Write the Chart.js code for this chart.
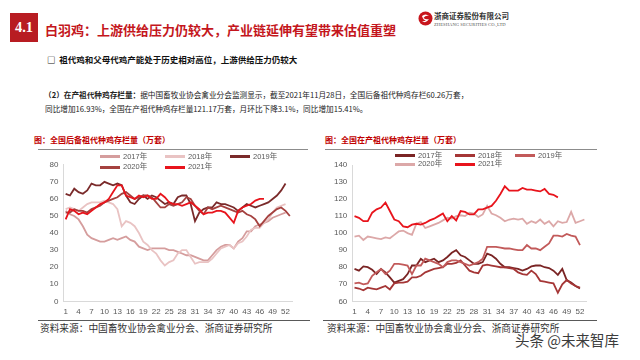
<!DOCTYPE html>
<html>
<head>
<meta charset="utf-8">
<script src="https://cdn.jsdelivr.net/npm/chart.js@4.4.1/dist/chart.umd.min.js"></script>
<style>
  html, body { margin: 0; padding: 0; }
  body { width: 640px; height: 360px; position: relative; overflow: hidden; background: #fff;
         font-family: "Noto Sans CJK SC", "Noto Sans", sans-serif; }
  .abs { position: absolute; white-space: nowrap; line-height: 1; }
  .hr { position: absolute; height: 0; }
  .lg-line { position: absolute; height: 3px; width: 20px; }
  .lg-text { position: absolute; font: 7.5px "Liberation Sans", "Noto Sans CJK SC", sans-serif; color: #595959; line-height: 1; }
  .box { position: absolute; }
</style>
</head>
<body>

<div class="abs" style="left:10px;top:13px;width:28px;height:29px;background:#b81c22;color:#fff;font:bold 14.5px 'Liberation Serif',serif;line-height:29px;text-align:center;">4.1</div>
<div class="abs" style="left:45px;top:23px;font-size:13px;font-weight:bold;color:#c4161c;">白羽鸡：上游供给压力仍较大，产业链延伸有望带来估值重塑</div>

<svg style="position:absolute;left:418px;top:11px" width="15" height="15" viewBox="0 0 15 15">
  <circle cx="7.5" cy="7.5" r="7" fill="#c8161d"/>
  <path d="M4 5 Q7.5 2 11 5 Q7.5 4 5.5 7 Q8 9 11 8 Q8 13 4 10 Q7 10 8 9.5 Q5 9 4 5Z" fill="#fff"/>
</svg>
<div class="abs" style="left:434px;top:12px;font-size:7.5px;font-weight:bold;color:#333;">浙商证券股份有限公司</div>
<div class="abs" style="left:434px;top:22px;font:4.6px 'Liberation Serif',serif;color:#555;letter-spacing:0.05px;">ZHESHANG SECURITIES CO.,LTD</div>

<div class="abs" style="left:47px;top:55px;font-size:8.5px;font-weight:bold;color:#111;">□&nbsp; 祖代鸡和父母代鸡产能处于历史相对高位，上游供给压力仍较大</div>

<div class="abs" style="left:44px;top:91px;font-size:7.65px;color:#222;"><b>（2）在产祖代种鸡存栏量：</b>据中国畜牧业协会禽业分会监测显示，截至2021年11月28日，全国后备祖代种鸡存栏60.26万套，</div>
<div class="abs" style="left:45px;top:104.5px;font-size:7.65px;color:#222;">同比增加16.93%，全国在产祖代种鸡存栏量121.17万套，月环比下降3.1%，同比增加15.41%。</div>

<div class="abs" style="left:34px;top:136px;font-size:8px;font-weight:bold;color:#c00000;">图：全国后备祖代种鸡存栏量（万套）</div>
<div class="abs" style="left:325px;top:136px;font-size:8px;font-weight:bold;color:#c00000;">图：全国在产祖代种鸡存栏量（万套）</div>
<div class="hr" style="left:38px;top:149px;width:270px;border-top:1px solid #8c8c8c;"></div>
<div class="hr" style="left:325px;top:149px;width:272px;border-top:1px solid #8c8c8c;"></div>

<div class="box" style="left:38px;top:155px;width:262px;height:165px;"><canvas id="reserveChart"></canvas></div>
<div class="box" style="left:320px;top:155px;width:277px;height:165px;"><canvas id="productionChart"></canvas></div>

<div id="legendLeft"></div>
<div id="legendRight"></div>

<div class="hr" style="left:38px;top:320px;width:272px;border-top:1px solid #595959;"></div>
<div class="hr" style="left:323px;top:320px;width:274px;border-top:1px solid #595959;"></div>
<div class="abs" style="left:40px;top:324px;font-size:9.7px;color:#333;">资料来源：中国畜牧业协会禽业分会、浙商证券研究所</div>
<div class="abs" style="left:327px;top:324px;font-size:9.7px;color:#333;">资料来源：中国畜牧业协会禽业分会、浙商证券研究所</div>

<div class="abs" style="left:515px;top:333px;font-size:14.5px;color:#3c3c3c;text-shadow:0 0 2px #fff;">头条 @未来智库</div>

<script>
// week categories (2020 has 53 weeks)
const weeks = ['1','2','3','4','5','6','7','8','9','10','11','12','13','14','15','16','17','18','19','20',
  '21','22','23','24','25','26','27','28','29','30','31','32','33','34','35','36','37','38','39','40',
  '41','42','43','44','45','46','47','48','49','50','51','52','53'];
const shownTicks = ['1','4','7','10','13','16','19','22','25','28','31','34','37','40','43','46','49','52'];
const yearNames = ['2017年', '2018年', '2019年', '2020年', '2021年'];

// 后备祖代种鸡存栏量 (万套)
const reserve2017 = [53,51,50,48,44, 39,37,36,35,35, 36,37,36,37,38, 36,35,32,31,30,
  31,31,31,31,30, 30,29,28,27,27, 26,25,24,24,27, 30,32,33,33,31, 35,37,41,41,44, 45,46,47,49,50, 51,52];
const reserve2018 = [54,55,54,53,55, 57,58,58,58,59, 58,57,54,44,47, 46,44,40,35,33,
  30,28,24,21,23, 24,28,30,30,26, 22,23,23,23,25, 28,31,32,33,31, 34,35,38,42,43, 43,46,48,52,55, 56,57];
const reserve2019 = [63,62,66,64,63, 65,69,68,68,70, 69,68,69,68,62, 58,57,60,62,60,
  62,61,59,57,58, 57,61,62,62,57, 47,52,54,55,55, 58,57,57,56,55, 53,55,57,56,55, 56,57,58,60,62, 65,69];
const reserve2020 = [52,52,54,53,53, 52,54,55,56,58, 59,60,61,63,64, 62,60,61,62,62,
  61,58,55,55,57, 56,57,58,61,60, 56,53,51,55,54, 55,56,55,54,53, 52,53,51,50,48, 44,47,50,52,54, 55,53,50];
const reserve2021 = [48,54,53,51,52, 51,53,55,57,58, 60,64,68,68,62, 61,60,62,61,62,
  60,60,63,61,58, 57,57,56,57,58, 56,54,51,52,52, 53,53,52,49,46, 53,55,56,57,59, 60,60];

// 在产祖代种鸡存栏量 (万套)
const production2017 = [79,78,80.5,80,78.5, 76,79,77,74,71, 72,73,76,81,81, 85,83,84,85,83,
  84,86,88.5,90,87, 86,84,82,82,83, 88,87,85,82,80, 80,79.5,79,78,79, 80.5,81,81,80,79.5, 78,75.5,79,72.5,71, 69,67.5];
const production2018 = [68,67.5,66.5,68,67.5, 67,68,69,67,70.5, 71,71,71.5,74,74, 75,77,78,79,79.5,
  80,82,82,82.5,84, 81,78,77,76.5,81, 81.5,81,80.5,80,80, 79.5,79,77,76,75.5, 78,76,72,71.5,71, 70.5,65,70,72.5,70.5, 69,68];
const production2019 = [70.5,71,70,70.5,75, 77,79,76,78,82, 82,81.5,81,76,81, 81,85,84,83,82,
  80,83,84,84,83, 82,81,82,83,85, 92,92,92,91.5,91, 91,90.5,90,90,93, 91,91,90,92,94, 98.5,98.5,98,99.5,98.5, 98,93];
const production2020 = [98,98.5,96,98,97.5, 97,96.5,97.5,97,99, 101,101.5,100,99,105.5, 106.5,103,104,105,106,
  107.5,109,108.5,110,110.5, 110,112,111.5,109.5,111, 116,111.5,110.5,109,107, 108,108.5,108,108.5,105.5,
  107,106,108,105.5,107, 104,107,106,106.5,112.5, 106,107,108];
const production2021 = [110,109,107,107,112, 114,115,118,113,108, 107,104,103.5,105,105.5, 105,106,107.5,108.5,110,
  111.5,107,110,107.5,113, 112.5,111,111,114,114, 115,116,119,123,127.5, 125,125,125,126.5,125.5,
  125.5,125,124.5,126,123, 122.5,121];

const reserveColors = ['#d59d9d', '#e9c3c3', '#7a2a2a', '#a5413f', '#e8141c'];
const productionColors = ['#7a2424', '#a53636', '#c25a5a', '#dca8a8', '#e8141c'];

const tickFont = { family: '"Liberation Sans", sans-serif', size: 8 };

const makeDatasets = (series, colors) => series.map((data, i) => ({
  label: yearNames[i],
  data: data,
  borderColor: colors[i],
  backgroundColor: colors[i],
  borderWidth: 1.8,
  pointRadius: 0,
  tension: 0,
  order: 5 - i
}));

const createLineChart = (canvasId, datasets, yMin, yMax, yWidth, pad) => {
  new Chart(document.getElementById(canvasId), {
    type: 'line',
    data: { labels: weeks, datasets: datasets },
    options: {
      responsive: true,
      maintainAspectRatio: false,
      animation: false,
      layout: { padding: pad },
      plugins: { legend: { display: false }, tooltip: { enabled: false } },
      scales: {
        x: {
          offset: true,
          grid: { display: false, drawTicks: false },
          border: { display: true, color: '#d9d9d9' },
          ticks: {
            font: tickFont, color: '#595959', padding: 6,
            autoSkip: false, maxRotation: 0,
            callback: function (value) {
              const lbl = this.getLabelForValue(value);
              return shownTicks.includes(lbl) ? lbl : '';
            }
          },
          afterFit: scale => { scale.height = 18.7; }
        },
        y: {
          min: yMin, max: yMax,
          grid: { display: false, drawTicks: false },
          border: { display: true, color: '#d9d9d9' },
          ticks: { stepSize: 10, font: tickFont, color: '#595959', padding: 5 },
          afterFit: scale => { scale.width = yWidth; }
        }
      }
    }
  });
};

// HTML legend laid out in two rows like the original
const buildLegend = (holderId, colors, cols, rows) => {
  const holder = document.getElementById(holderId);
  yearNames.forEach((name, i) => {
    const x = cols[i % 3];
    const y = rows[Math.floor(i / 3)];
    const line = document.createElement('div');
    line.className = 'lg-line';
    line.style.left = x + 'px';
    line.style.top = (y - 1.5) + 'px';
    line.style.background = colors[i];
    holder.appendChild(line);
    const txt = document.createElement('div');
    txt.className = 'lg-text';
    txt.style.left = (x + 23) + 'px';
    txt.style.top = (y - 4) + 'px';
    txt.textContent = name;
    holder.appendChild(txt);
  });
};

createLineChart('reserveChart',
  makeDatasets([reserve2017, reserve2018, reserve2019, reserve2020, reserve2021], reserveColors),
  0, 80, 25.5, { top: 8.3, right: 8, bottom: 0, left: 0 });
createLineChart('productionChart',
  makeDatasets([production2017, production2018, production2019, production2020, production2021], productionColors),
  60, 140, 32.3, { top: 10, right: 10.4, bottom: 0, left: 0 });

buildLegend('legendLeft', reserveColors, [100, 165, 230], [156.7, 167]);
buildLegend('legendRight', productionColors, [395, 455, 515], [155.7, 164]);
</script>
</body>
</html>
